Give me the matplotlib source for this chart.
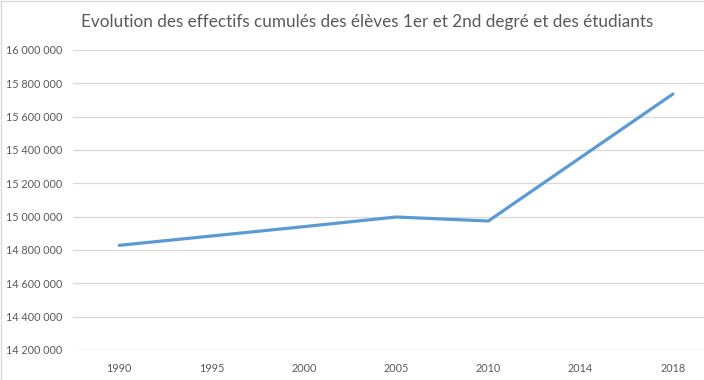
import matplotlib
matplotlib.use("Agg")
import matplotlib.pyplot as plt
from matplotlib.ticker import FuncFormatter, MultipleLocator
from matplotlib.lines import Line2D

# Values
years = ["1990", "1995", "2000", "2005", "2010", "2014", "2018"]
effectifs = [14828000, 14884000, 14940000, 14998000, 14974000, 15355000, 15736000]

title = "Evolution des effectifs cumulés des élèves 1er et 2nd degré et des étudiants"

plt.rcParams["font.family"] = ["Lato", "DejaVu Sans"]

W, H = 704, 380
fig = plt.figure(figsize=(W / 100, H / 100), dpi=100)

# plot area: x from 73 px to the right edge, y from 50 px to 350 px
ax = fig.add_axes([73 / W, (H - 350) / H, (W - 73) / W, 300 / H])

x = list(range(len(years)))
ax.plot(x, effectifs, color="#5B9BD5", linewidth=2.3, solid_capstyle="round", zorder=3)

ax.set_ylim(14200000, 16000000)
ax.yaxis.set_major_locator(MultipleLocator(200000))
ax.yaxis.set_major_formatter(FuncFormatter(lambda v, p: f"{int(v):,}".replace(",", " ")))

spacing = 92.3
ax.set_xlim(-0.5, -0.5 + (W - 73) / spacing)
ax.set_xticks(x)
ax.set_xticklabels(years)

ax.grid(axis="y", color="#D9D9D9", linewidth=0.9, zorder=0)
for s in ax.spines.values():
    s.set_visible(False)
ax.tick_params(axis="both", length=0, labelsize=7.8, labelcolor="#595959")
ax.tick_params(axis="y", pad=8)
ax.tick_params(axis="x", pad=9)

fig.text(367 / W, 1 - 22 / H, title, ha="center", va="center",
         fontsize=12.3, color="#595959")

# chart border (left and top visible)
fig.add_artist(Line2D([0.5 / W, 0.5 / W], [0, 1 - 0.5 / H], transform=fig.transFigure,
                      color="#D9D9D9", linewidth=1))
fig.add_artist(Line2D([0.5 / W, 1], [1 - 0.5 / H, 1 - 0.5 / H], transform=fig.transFigure,
                      color="#D9D9D9", linewidth=1))

fig.savefig("out.png", dpi=100)
